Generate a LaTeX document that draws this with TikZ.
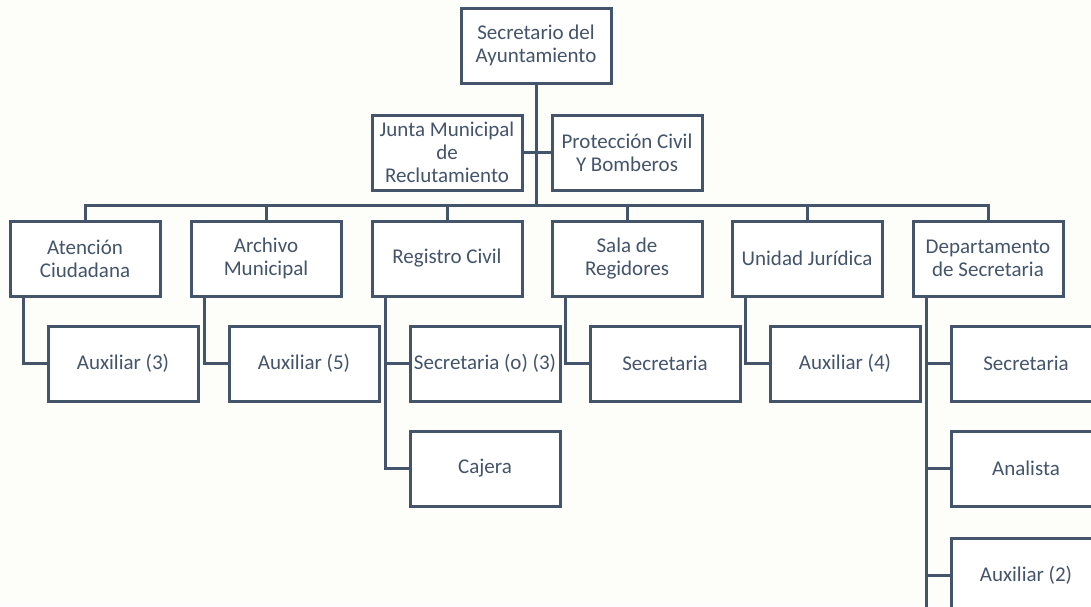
\documentclass[tikz,border=0pt]{standalone}
\usepackage{fontspec}
\setmainfont{Carlito}
\usepackage{xcolor}
\usepackage{tikz}
\definecolor{slate}{HTML}{44546A}
\definecolor{paper}{HTML}{FDFDF9}

\begin{document}
\begin{tikzpicture}[x=1pt, y=-1pt, node distance=105pt]
		% Define styles with simple colors
		\tikzstyle{unit} = [rectangle, minimum width=150pt, minimum height=75pt, inner sep=1pt, align=center, draw=slate, fill=white, line width=3pt, text=slate, font=\fontsize{21}{23}\selectfont]
		\tikzstyle{link} = [line width=3pt, draw=slate]

		% Page
		\fill[paper] (0,0) rectangle (1091,606);
		\useasboundingbox (0,0) rectangle (1091,606);
		\clip (0,0) rectangle (1091,606);

		% Nodes
		\node[unit] (secretario) at (536,45.5) {Secretario del\\Ayuntamiento};
		\node[unit] (junta) at (447,152.5) {Junta Municipal\\de\\Reclutamiento};
		\node[unit] (proteccion) at (627,152.5) {Protección Civil\\Y Bomberos};
		\coordinate (bar) at (536,205);

		\node[unit] (atencion) at (85,258.5) {Atención\\Ciudadana};
		\node[unit] (archivo) at (266,258.5) {Archivo\\Municipal};
		\node[unit] (registro) at (447,258.5) {Registro Civil};
		\node[unit] (sala) at (627,258.5) {Sala de\\Regidores};
		\node[unit] (juridica) at (807,258.5) {Unidad Jurídica};
		\node[unit] (departamento) at (988,258.5) {Departamento\\de Secretaria};

		\node[unit, below of=atencion, xshift=38pt] (auxatencion) {Auxiliar (3)};
		\node[unit, below of=archivo, xshift=38pt] (auxarchivo) {Auxiliar (5)};
		\node[unit, below of=registro, xshift=38pt] (secregistro) {Secretaria (o) (3)};
		\node[unit, below of=secregistro] (cajera) {Cajera};
		\node[unit, below of=sala, xshift=38pt] (secsala) {Secretaria};
		\node[unit, below of=juridica, xshift=38pt] (auxjuridica) {Auxiliar (4)};
		\node[unit, below of=departamento, xshift=38pt] (secdepto) {Secretaria};
		\node[unit, below of=secdepto] (analista) {Analista};
		\node[unit, below of=analista, yshift=-2pt] (auxdepto) {Auxiliar (2)};

		% Connectors
		\draw[link] (secretario.south) -- (bar);
		\draw[link] (junta.east) -- (proteccion.west);
		\foreach \n in {atencion, archivo, registro, sala, juridica, departamento}
			\draw[link] (bar) -| (\n.north);

		\draw[link] ([xshift=15pt]atencion.south west) |- (auxatencion.west);
		\draw[link] ([xshift=15pt]archivo.south west) |- (auxarchivo.west);
		\draw[link] ([xshift=15pt]registro.south west) |- (secregistro.west);
		\draw[link] ([xshift=15pt]registro.south west) |- (cajera.west);
		\draw[link] ([xshift=15pt]sala.south west) |- (secsala.west);
		\draw[link] ([xshift=15pt]juridica.south west) |- (auxjuridica.west);
		\draw[link] ([xshift=15pt]departamento.south west) |- (secdepto.west);
		\draw[link] ([xshift=15pt]departamento.south west) |- (analista.west);
		\draw[link] ([xshift=15pt]departamento.south west) |- (auxdepto.west);
		\draw[link] ([xshift=15pt]departamento.south west) -- ([xshift=15pt, yshift=-40pt]auxdepto.south west -| departamento.south west);
	\end{tikzpicture}
\end{document}
